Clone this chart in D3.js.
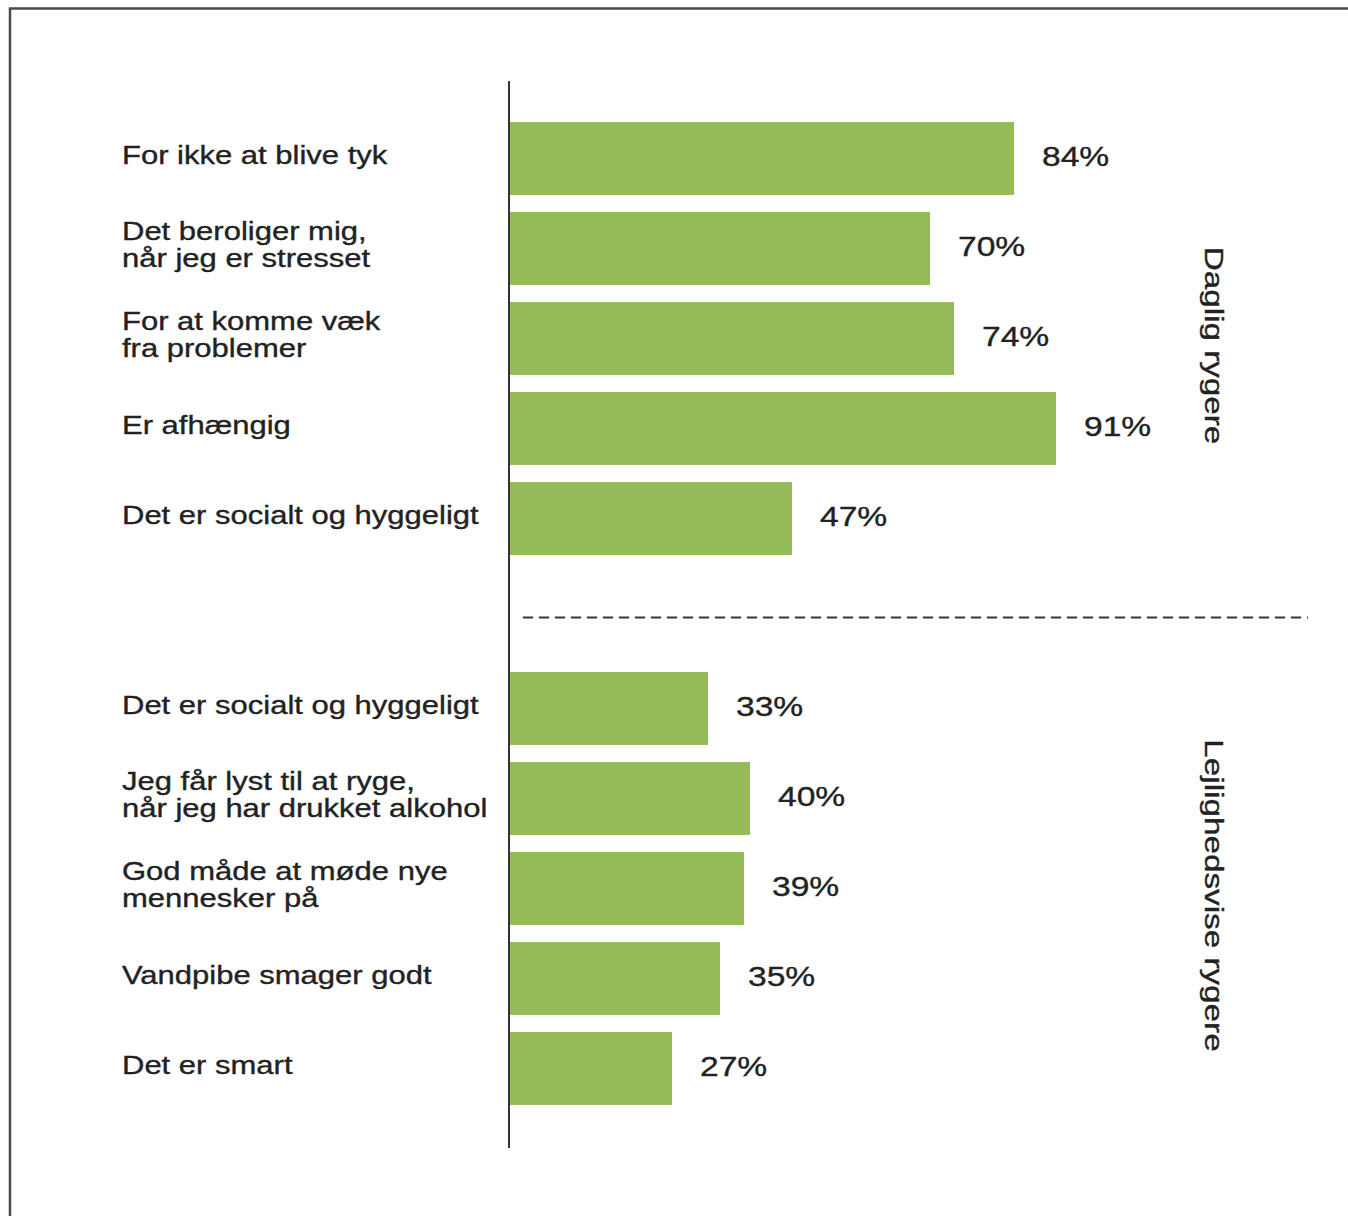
<!DOCTYPE html>
<html>
<head>
<meta charset="utf-8">
<script src="https://cdn.jsdelivr.net/npm/d3@7/dist/d3.min.js"></script>
<style>
  html, body { margin: 0; padding: 0; background: #fff; }
  svg { display: block; }
  text { font-family: "Liberation Sans", Arial, sans-serif; fill: #222; stroke: #222; stroke-width: 0.35px; }
</style>
</head>
<body>
<svg id="chart" width="1348" height="1216"></svg>
<script>
// Reasons for smoking water pipe, daily vs. occasional smokers (share answering yes)
const dailyLabels = [
  ["For ikke at blive tyk"],
  ["Det beroliger mig,", "når jeg er stresset"],
  ["For at komme væk", "fra problemer"],
  ["Er afhængig"],
  ["Det er socialt og hyggeligt"]
];
const dailyValues = [84, 70, 74, 91, 47];

const occasionalLabels = [
  ["Det er socialt og hyggeligt"],
  ["Jeg får lyst til at ryge,", "når jeg har drukket alkohol"],
  ["God måde at møde nye", "mennesker på"],
  ["Vandpibe smager godt"],
  ["Det er smart"]
];
const occasionalValues = [33, 40, 39, 35, 27];

const groupTitles = ["Daglig rygere", "Lejlighedsvise rygere"];

// ---- layout ----
const svg = d3.select("#chart");
const axisX = 510;
const groupHeight = 450;
const groupGap = 100;
const topY = 113.5;
const labelX = 122;
const labelSize = 25, labelStretch = 1.24, lineGap = 27.5;
const valueSize = 28, valueStretch = 1.2, valuePad = 28;
const barColor = "#95bb59";

const x = d3.scaleLinear().domain([0, 100]).range([axisX, axisX + 600]);

const groups = [
  { labels: dailyLabels, values: dailyValues, title: groupTitles[0] },
  { labels: occasionalLabels, values: occasionalValues, title: groupTitles[1] }
];

// outer frame (top and left edges)
svg.append("path")
  .attr("d", "M10,1216 V8.5 H1348")
  .attr("fill", "none")
  .attr("stroke", "#4a4a4a")
  .attr("stroke-width", 2.5);

groups.forEach((g, gi) => {
  const y0 = topY + gi * (groupHeight + groupGap);
  const y = d3.scaleBand()
    .domain(d3.range(g.values.length))
    .range([y0, y0 + groupHeight])
    .paddingInner(0.19)
    .paddingOuter(0.095);

  const gg = svg.append("g");

  gg.selectAll("rect.bar")
    .data(g.values)
    .join("rect")
    .attr("class", "bar")
    .attr("x", x(0))
    .attr("y", (d, i) => y(i))
    .attr("width", d => x(d) - x(0))
    .attr("height", y.bandwidth())
    .attr("fill", barColor);

  // value labels
  gg.selectAll("text.value")
    .data(g.values)
    .join("text")
    .attr("class", "value")
    .attr("transform", (d, i) =>
      `translate(${x(d) + valuePad},${y(i) + y.bandwidth() / 2 + 7}) scale(${valueStretch},1)`)
    .attr("font-size", valueSize)
    .text(d => d + "%");

  // category labels (one or two lines)
  g.labels.forEach((lines, i) => {
    const cy = y(i) + y.bandwidth() / 2 - 4;
    const t = gg.append("g");
    lines.forEach((line, li) => {
      const baseline = cy + (li - (lines.length - 1) / 2) * lineGap + 9;
      t.append("text")
        .attr("transform", `translate(${labelX},${baseline}) scale(${labelStretch},1)`)
        .attr("font-size", labelSize)
        .text(line);
    });
  });

  // group title, rotated along the right edge
  svg.append("text")
    .attr("transform", `translate(1205,${y0 + groupHeight / 2 + 7}) rotate(90) scale(1.33,1)`)
    .attr("text-anchor", "middle")
    .attr("font-size", labelSize)
    .text(g.title);
});

// divider between the two groups
const dividerY = topY + groupHeight + groupGap / 2 + 4;
svg.append("line")
  .attr("x1", axisX + 13).attr("x2", 1308)
  .attr("y1", dividerY).attr("y2", dividerY)
  .attr("stroke", "#333")
  .attr("stroke-width", 2)
  .attr("stroke-dasharray", "10,6");

// vertical axis line
svg.append("line")
  .attr("x1", axisX - 1).attr("x2", axisX - 1)
  .attr("y1", 81).attr("y2", 1148)
  .attr("stroke", "#333")
  .attr("stroke-width", 2);
</script>
</body>
</html>
